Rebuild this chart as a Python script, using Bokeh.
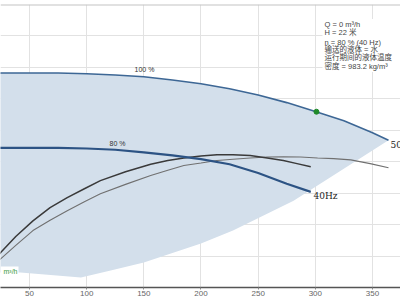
from bokeh.plotting import figure
from bokeh.models import Range1d, SingleIntervalTicker, Label, Span, BoxAnnotation
from bokeh.embed import file_html
from bokeh.resources import INLINE

# ---- data (Q in m3/h, H in m) ----
q_100 = [0, 25, 50, 75, 100, 125, 150, 175, 200, 225, 250, 275, 300, 325, 350, 364]
h_100 = [34.2, 34.1, 34.1, 34.1, 34.0, 33.8, 33.5, 33.0, 32.4, 31.6, 30.6, 29.4, 28.0, 26.5, 24.6, 23.4]

q_80 = [0, 25, 50, 75, 100, 125, 150, 175, 200, 225, 250, 275, 296]
h_80 = [22.3, 22.2, 22.2, 22.2, 22.1, 21.9, 21.5, 21.0, 20.4, 19.6, 18.2, 16.5, 15.2]

q_min = [364, 281, 228, 200, 150, 121, 95, 42, 25, 0]
h_min = [23.4, 13.8, 9.05, 6.98, 3.97, 2.70, 1.59, 2.4, 2.38, 2.3]

q_c1 = [12, 25, 38, 53, 68, 83, 98, 112, 134, 156, 171, 185, 200, 214, 228, 243, 258, 272, 284, 296]
h_c1 = [3.0, 5.6, 8.1, 10.6, 12.7, 14.3, 15.7, 17.0, 18.4, 19.6, 20.2, 20.6, 20.9, 21.1, 21.1, 21.0, 20.6, 20.2, 19.7, 19.2]

q_c2 = [12, 25, 38, 53, 68, 83, 98, 112, 134, 156, 171, 185, 200, 214, 228, 243, 258, 272, 287, 302, 316, 331, 348, 364]
h_c2 = [2.6, 4.6, 6.7, 9.05, 10.7, 12.2, 13.65, 14.9, 16.4, 17.8, 18.65, 19.4, 19.8, 20.2, 20.4, 20.6, 20.75, 20.8, 20.75, 20.6, 20.5, 20.3, 19.7, 19.05]

duty_q = [301]
duty_h = [27.95]

x_ticks_interval = 50
info_lines = ["Q = 0    m³/h", "H = 22 米", "n = 80 % (40  Hz)",
              "输送的液体 = 水", "运行期间的液体温度", "密度 = 983.2 kg/m³"]

# ---- helpers to place annotations by pixel position ----
def qx(px):
    return 50 + (px - 29) / 1.1433

def hy(py):
    return (287 - py) / 6.3

p = figure(width=400, height=300, output_backend="svg", toolbar_location=None,
           x_range=Range1d(qx(0), qx(400)), y_range=Range1d(0, 45),
           y_axis_location=None, min_border_left=0, min_border_right=0,
           min_border_top=4, min_border_bottom=13)
p.outline_line_color = None
p.background_fill_color = "white"
p.border_fill_color = "white"

p.xaxis.ticker = SingleIntervalTicker(interval=x_ticks_interval)
p.xgrid.ticker = SingleIntervalTicker(interval=x_ticks_interval)
p.ygrid.ticker = SingleIntervalTicker(interval=5)
p.xgrid.grid_line_color = "#e2e2e2"
p.ygrid.grid_line_color = "#e2e2e2"
p.xaxis.axis_line_color = "#555555"
p.xaxis.axis_line_width = 1.5
p.xaxis.major_tick_out = 2
p.xaxis.major_tick_in = 0
p.xaxis.minor_tick_out = 0
p.xaxis.minor_tick_in = 0
p.xaxis.major_tick_line_color = "#888888"
p.xaxis.major_label_standoff = 1
p.xaxis.major_label_text_font_size = "8px"
p.xaxis.major_label_text_color = "#666666"
p.xaxis.major_label_text_font = "Liberation Sans"

p.add_layout(Span(location=45, dimension="width", line_color="#c4c4c4", line_width=2))

# operating region fill
p.patch(q_100 + q_min, h_100 + h_min, fill_color="#d3dfeb", line_color=None)

# black curves
p.line(q_c2, h_c2, line_color="#707070", line_width=1.1)
p.line(q_c1, h_c1, line_color="#3a3a3a", line_width=1.5)

# speed curves
p.line(q_100, h_100, line_color="#3d6795", line_width=1.6)
p.line(q_80, h_80, line_color="#2c5384", line_width=2.2)

p.scatter(duty_q, duty_h, size=5, color="#1f8a2a")

lbl_font = "Liberation Sans"
p.add_layout(Label(x=qx(144), y=hy(69), text="100 %", text_align="center", text_baseline="middle",
                   text_font_size="7px", text_color="#333333", text_font=lbl_font))
p.add_layout(Label(x=qx(117), y=hy(143), text="80 %", text_align="center", text_baseline="middle",
                   text_font_size="7px", text_color="#333333", text_font=lbl_font))
p.add_layout(Label(x=qx(313), y=hy(195), text="40Hz", text_align="left", text_baseline="middle",
                   text_font_size="9px", text_color="#222222", text_font="DejaVu Serif"))
p.add_layout(Label(x=qx(390), y=hy(144), text="50Hz", text_align="left", text_baseline="middle",
                   text_font_size="9px", text_color="#222222", text_font="DejaVu Serif"))

# info box
p.add_layout(BoxAnnotation(left=qx(322), right=qx(400), top=hy(18), bottom=hy(71),
                           fill_color="white", fill_alpha=1, line_color=None))
info_y = [24, 32, 42, 49, 57, 66]
for txt, py in zip(info_lines, info_y):
    p.add_layout(Label(x=qx(324), y=hy(py), text=txt, text_align="left", text_baseline="middle",
                       text_font_size="7.5px", text_color="#444444",
                       text_font="Liberation Sans, 'Noto Sans CJK SC'"))

# green label box at lower left
p.add_layout(BoxAnnotation(left=qx(0), right=qx(18), top=hy(266), bottom=hy(276),
                           fill_color="white", fill_alpha=1, line_color=None))
p.add_layout(Label(x=qx(3), y=hy(270.5), text="m³/h", text_align="left", text_baseline="middle",
                   text_font_size="7px", text_color="#3a9a3a", text_font=lbl_font))

open("out.html", "w").write(file_html(p, INLINE))
